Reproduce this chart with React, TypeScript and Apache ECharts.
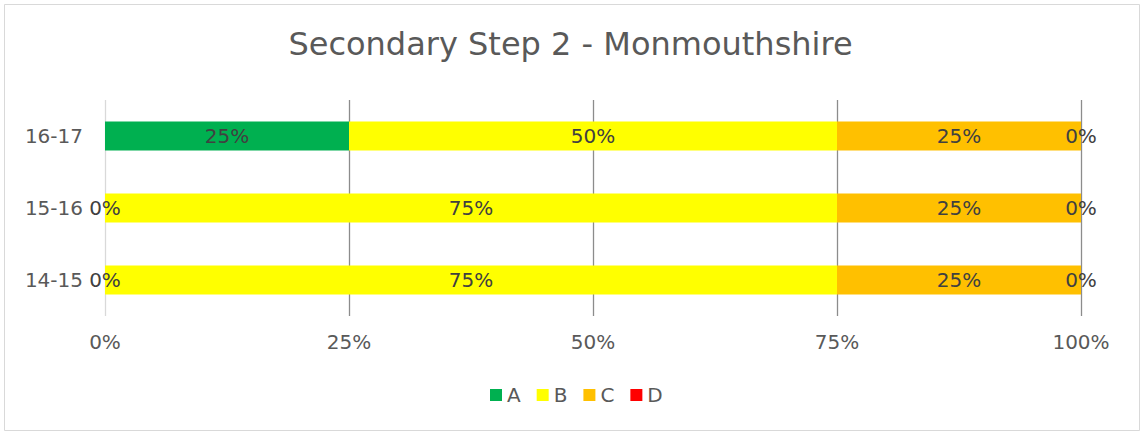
import React, { useEffect, useRef } from "react";
import * as echarts from "echarts";

const categories = ["14-15", "15-16", "16-17"];
const seriesNames = ["A", "B", "C", "D"];
const seriesColors = ["#00b050", "#ffff00", "#ffc000", "#ff0000"];
const valuesA = [0, 0, 25];
const valuesB = [75, 75, 50];
const valuesC = [25, 25, 25];
const valuesD = [0, 0, 0];
const xTicks = [0, 25, 50, 75, 100];

const FONT = "DejaVu Sans";

export default function App() {
  const ref = useRef<HTMLDivElement>(null);
  useEffect(() => {
    document.body.style.margin = "0";
    const chart = echarts.init(ref.current!, null, { renderer: "svg" });
    const data = [valuesA, valuesB, valuesC, valuesD];
    chart.setOption({
      animation: false,
      backgroundColor: "#ffffff",
      textStyle: { fontFamily: FONT },
      title: {
        text: "Secondary Step 2 - Monmouthshire",
        left: "center",
        top: 23,
        textStyle: { fontFamily: FONT, fontSize: 32, fontWeight: "normal", color: "#595959" },
      },
      graphic: [
        {
          type: "rect",
          shape: { x: 4.5, y: 4.5, width: 1135, height: 426 },
          style: { fill: "none", stroke: "#d9d9d9", lineWidth: 1 },
          silent: true,
        },
      ],
      legend: {
        data: seriesNames,
        left: 485,
        top: 380,
        icon: "rect",
        itemWidth: 12,
        itemHeight: 12,
        itemGap: 16,
        textStyle: { fontFamily: FONT, fontSize: 20, color: "#595959" },
      },
      grid: { left: 105, right: 60, top: 100, bottom: 116 },
      xAxis: {
        type: "value",
        min: 0,
        max: 100,
        interval: 25,
        axisLine: { show: false },
        axisTick: { show: false },
        axisLabel: {
          fontFamily: FONT,
          fontSize: 20,
          color: "#595959",
          margin: 16,
          formatter: (v: number) => (xTicks.includes(v) ? v + "%" : ""),
        },
        splitLine: {
          show: true,
          lineStyle: { color: ["#d9d9d9", "#8c8c8c", "#8c8c8c", "#8c8c8c", "#8c8c8c"], width: 1.3 },
        },
      },
      yAxis: {
        type: "category",
        data: categories,
        axisLine: { show: false },
        axisTick: { show: false },
        axisLabel: { fontFamily: FONT, fontSize: 20, color: "#595959", margin: 22 },
      },
      series: seriesNames.map((name, i) => ({
        name,
        type: "bar",
        stack: "total",
        data: data[i],
        barWidth: 29,
        itemStyle: { color: seriesColors[i] },
        label: {
          show: true,
          position: "inside",
          formatter: "{c}%",
          fontFamily: FONT,
          fontSize: 20,
          color: "#404040",
        },
      })),
    });
    return () => chart.dispose();
  }, []);
  return <div ref={ref} style={{ width: 1141, height: 432 }} />;
}
